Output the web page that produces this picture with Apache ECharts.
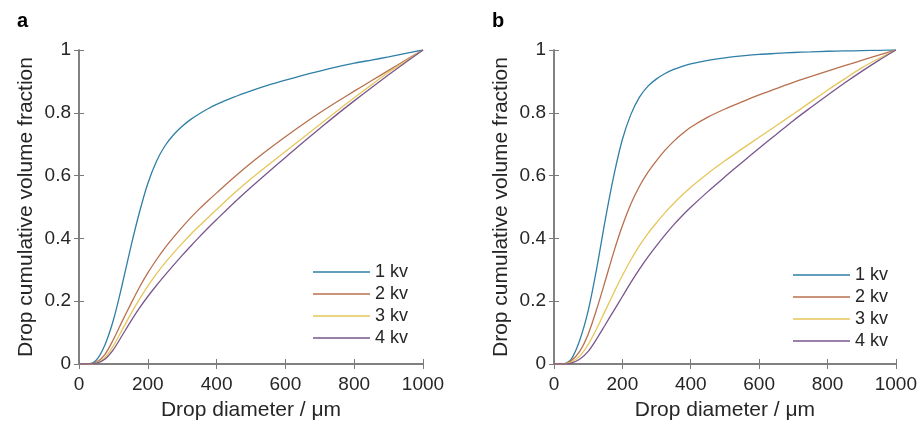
<!DOCTYPE html>
<html>
<head>
<meta charset="utf-8">
<script src="https://cdn.jsdelivr.net/npm/echarts@6/dist/echarts.min.js"></script>
<style>
  html, body { margin: 0; padding: 0; background: #fff; }
  #chart { width: 920px; height: 426px; }
</style>
</head>
<body>
<div id="chart"></div>
<script>
// drop diameter (um) sample points
var diam = [0, 25, 50, 75, 100, 125, 150, 175, 200, 225, 250, 275, 300, 325, 350, 375, 400,
            450, 500, 550, 600, 650, 700, 750, 800, 850, 900, 950, 1000];

// panel a
var a1kv = [0, 0, 0.012, 0.06, 0.14, 0.25, 0.37, 0.48, 0.575, 0.645, 0.695, 0.73, 0.757, 0.779, 0.797, 0.813, 0.827,
            0.85, 0.87, 0.888, 0.904, 0.919, 0.933, 0.946, 0.958, 0.968, 0.978, 0.989, 1];
var a2kv = [0, 0, 0.005, 0.03, 0.078, 0.135, 0.19, 0.243, 0.29, 0.332, 0.37, 0.404, 0.436, 0.466, 0.494, 0.52, 0.545,
            0.594, 0.64, 0.683, 0.724, 0.763, 0.8, 0.835, 0.869, 0.902, 0.935, 0.968, 1];
var a3kv = [0, 0, 0.003, 0.02, 0.058, 0.108, 0.158, 0.205, 0.248, 0.287, 0.322, 0.354, 0.384, 0.413, 0.44, 0.466, 0.492,
            0.543, 0.59, 0.634, 0.677, 0.72, 0.763, 0.806, 0.848, 0.889, 0.929, 0.965, 1];
var a4kv = [0, 0, 0.002, 0.015, 0.046, 0.09, 0.135, 0.177, 0.215, 0.25, 0.283, 0.315, 0.346, 0.376, 0.405, 0.433, 0.46,
            0.513, 0.563, 0.611, 0.658, 0.705, 0.75, 0.795, 0.838, 0.88, 0.921, 0.961, 1];

// panel b
var b1kv = [0, 0, 0.015, 0.075, 0.17, 0.305, 0.46, 0.6, 0.715, 0.795, 0.85, 0.885, 0.908, 0.925, 0.938, 0.948, 0.956,
            0.967, 0.975, 0.981, 0.986, 0.989, 0.992, 0.994, 0.996, 0.997, 0.998, 0.999, 1];
var b2kv = [0, 0, 0.01, 0.04, 0.095, 0.175, 0.265, 0.357, 0.44, 0.51, 0.566, 0.611, 0.648, 0.681, 0.709, 0.733, 0.754,
            0.786, 0.812, 0.835, 0.857, 0.877, 0.897, 0.915, 0.933, 0.95, 0.967, 0.984, 1];
var b3kv = [0, 0, 0.006, 0.025, 0.062, 0.113, 0.17, 0.227, 0.282, 0.332, 0.377, 0.416, 0.45, 0.482, 0.511, 0.538, 0.563,
            0.607, 0.647, 0.685, 0.722, 0.759, 0.796, 0.834, 0.872, 0.908, 0.943, 0.973, 1];
var b4kv = [0, 0, 0.003, 0.015, 0.04, 0.08, 0.125, 0.17, 0.215, 0.26, 0.302, 0.341, 0.377, 0.411, 0.443, 0.472, 0.499,
            0.549, 0.596, 0.642, 0.687, 0.731, 0.775, 0.816, 0.856, 0.895, 0.932, 0.967, 1];

var names = ['1 kv', '2 kv', '3 kv', '4 kv'];
var colors = ['#2f7fa6', '#b8704e', '#e6c65a', '#7a568e'];

var font = '"Liberation Sans", Arial, sans-serif';
var axisColor = '#7a7a7a';
var textColor = '#262626';

function pairs(ys) {
    return diam.map(function (x, i) { return [x, ys[i]]; });
}

function xAxisFor(grid, top) {
    return {
        type: 'value', gridIndex: grid, position: top ? 'top' : 'bottom',
        min: 0, max: 1000, interval: 200,
        name: top ? '' : 'Drop diameter / μm',
        nameLocation: 'middle', nameGap: 36,
        nameTextStyle: { fontFamily: font, fontSize: 21, color: textColor },
        axisLine: { show: true, lineStyle: { color: axisColor, width: 1.5 } },
        axisTick: { show: true, inside: true, length: 5, lineStyle: { color: axisColor } },
        axisLabel: {
            show: !top, margin: 11, fontFamily: font, fontSize: 19, color: textColor,
            formatter: function (v) { return String(v); }
        },
        splitLine: { show: false }
    };
}

function yAxisFor(grid, right) {
    return {
        type: 'value', gridIndex: grid, position: right ? 'right' : 'left',
        min: 0, max: 1, interval: 0.2,
        name: right ? '' : 'Drop cumulative volume fraction',
        nameLocation: 'middle', nameGap: 42, nameRotate: 90,
        nameTextStyle: { fontFamily: font, fontSize: 21, color: textColor },
        axisLine: { show: true, lineStyle: { color: axisColor, width: 1.5 } },
        axisTick: { show: true, inside: true, length: 5, lineStyle: { color: axisColor } },
        axisLabel: { show: !right, margin: 8, fontFamily: font, fontSize: 19, color: textColor },
        splitLine: { show: false }
    };
}

function lineSeries(name, ys, idx, axis) {
    return {
        name: name, type: 'line',
        xAxisIndex: axis, yAxisIndex: axis,
        data: pairs(ys),
        symbol: 'none', smooth: 0.3,
        lineStyle: { color: colors[idx], width: 1.3 },
        itemStyle: { color: colors[idx] }
    };
}

function legendFor(left, top) {
    return {
        orient: 'vertical', left: left, top: top, padding: 0,
        itemGap: 0, itemWidth: 57, itemHeight: 1.5, icon: 'rect',
        data: names.map(function (n, i) { return { name: n, itemStyle: { color: colors[i] } }; }),
        textStyle: { fontFamily: font, fontSize: 18, color: textColor, lineHeight: 22 },
        selectedMode: false
    };
}

var chart = echarts.init(document.getElementById('chart'));

var option = {
    animation: false,
    backgroundColor: '#fff',
    title: [
        { text: 'a', left: 12, top: 6, textStyle: { fontFamily: font, fontSize: 20, fontWeight: 'bold', color: '#000' } },
        { text: 'b', left: 487, top: 6, textStyle: { fontFamily: font, fontSize: 20, fontWeight: 'bold', color: '#000' } }
    ],
    grid: [
        { left: 79, right: 497, top: 50, bottom: 61 },
        { left: 554, right: 22, top: 50, bottom: 61 }
    ],
    xAxis: [xAxisFor(0, false), xAxisFor(1, false), xAxisFor(0, true), xAxisFor(1, true)],
    yAxis: [yAxisFor(0, false), yAxisFor(1, false), yAxisFor(0, true), yAxisFor(1, true)],
    legend: [legendFor(313, 261), legendFor(793, 264)],
    series: [
        lineSeries(names[0], a1kv, 0, 0),
        lineSeries(names[1], a2kv, 1, 0),
        lineSeries(names[2], a3kv, 2, 0),
        lineSeries(names[3], a4kv, 3, 0),
        lineSeries(names[0], b1kv, 0, 1),
        lineSeries(names[1], b2kv, 1, 1),
        lineSeries(names[2], b3kv, 2, 1),
        lineSeries(names[3], b4kv, 3, 1)
    ]
};

chart.setOption(option);
</script>
</body>
</html>
